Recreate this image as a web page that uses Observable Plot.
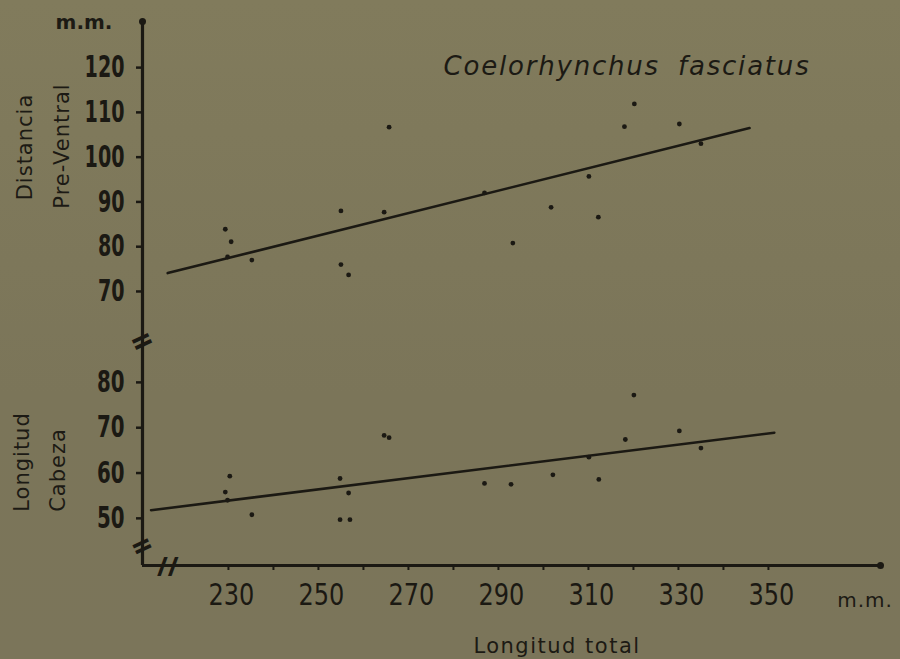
<!DOCTYPE html>
<html>
<head>
<meta charset="utf-8">
<script src="https://cdn.jsdelivr.net/npm/d3@7"></script>
<script src="https://cdn.jsdelivr.net/npm/@observablehq/plot@0.6"></script>
<style>
html,body{margin:0;padding:0;}
body{width:900px;height:659px;overflow:hidden;background:linear-gradient(#817b5c,#7b7559 60%,#7b755a);font-family:"DejaVu Sans",sans-serif;}
#wrap{position:relative;width:900px;height:659px;}
#top,#bot{position:absolute;left:0;}
#top{top:0;}
#bot{top:320px;}
.lbl{position:absolute;color:#1c1a14;white-space:nowrap;line-height:1;}
</style>
</head>
<body>
<div id="wrap">
  <div id="top"></div>
  <div id="bot"></div>
</div>
<script>
// ---- data ----
const xLabelTicks = [230, 250, 270, 290, 310, 330, 350];
const xMinorTicks = [230, 240, 250, 260, 270, 280, 290, 300, 310, 320, 330, 340, 350];
const upperTicks = [70, 80, 90, 100, 110, 120];
const lowerTicks = [50, 60, 70, 80];

const preVentralX = [229.3, 230.6, 229.8, 235.2, 255.0, 255.0, 256.7, 265.7, 264.6, 286.9, 293.2, 301.7, 310.1, 312.2, 318.0, 320.2, 330.2, 335.0];
const preVentralY = [83.9, 81.1, 77.7, 77.0, 88.0, 76.0, 73.7, 106.7, 87.7, 92.0, 80.8, 88.8, 95.7, 86.6, 106.8, 111.9, 107.4, 103.0];

const cabezaX = [230.3, 229.3, 229.8, 235.2, 254.8, 256.7, 254.8, 257.0, 264.6, 265.7, 286.9, 292.8, 302.1, 310.1, 312.3, 318.2, 320.1, 330.2, 335.0];
const cabezaY = [59.3, 55.8, 54.0, 50.8, 58.8, 55.6, 49.7, 49.7, 68.3, 67.8, 57.7, 57.5, 59.6, 63.5, 58.6, 67.4, 77.2, 69.3, 65.5];

const preVentralFitX = [216.5, 345.8];
const preVentralFitY = [74.1, 106.5];
const cabezaFitX = [212.8, 351.3];
const cabezaFitY = [51.8, 68.9];

const xDomain = [210.9, 374.9];
const upperDomain = [58.6, 130.3];
const lowerDomain = [39.6, 88.8];
const lowerBreakY = [43.6];
const xBreakX = [216.5];

const title = "Coelorhynchus fasciatus";
const unitLabel = "m.m.";
const xTitle = "Longitud total";
const upperTitle = ["Distancia", "Pre-Ventral"];
const lowerTitle = ["Longitud", "Cabeza"];

// ---- build ----
const ink = "#1b1913";
const numFont = "'DejaVu Sans Condensed','DejaVu Sans',sans-serif";
const upperPts = preVentralX.map((x, i) => ({x, y: preVentralY[i]}));
const lowerPts = cabezaX.map((x, i) => ({x, y: cabezaY[i]}));
const upperFit = preVentralFitX.map((x, i) => ({x, y: preVentralFitY[i]}));
const lowerFit = cabezaFitX.map((x, i) => ({x, y: cabezaFitY[i]}));

const common = {
  width: 900, marginLeft: 142, marginRight: 20,
  style: {background: "transparent", color: ink, overflow: "visible"},
};

const up = Plot.plot({
  ...common,
  height: 342, marginTop: 21, marginBottom: 0,
  x: {domain: xDomain, axis: null},
  y: {domain: upperDomain, axis: null},
  marks: [
    Plot.ruleX([xDomain[0]], {y1: upperDomain[0], y2: upperDomain[1], stroke: ink, strokeWidth: 3.2}),
    Plot.dot([upperDomain[1]], {x: () => xDomain[0], y: d => d, r: 3.5, fill: ink}),
    Plot.axisY({ticks: upperTicks, tickSize: 6, tickPadding: 12, strokeWidth: 2.5, fontSize: 30, fontWeight: "bold", fontFamily: numFont, label: null}),
    Plot.line(upperFit, {x: "x", y: "y", stroke: ink, strokeWidth: 2.6}),
    Plot.dot(upperPts, {x: "x", y: "y", r: 2.4, fill: ink})
  ]
});
document.getElementById("top").append(up);

const bot = Plot.plot({
  ...common,
  height: 339, marginTop: 22, marginBottom: 94,
  x: {domain: xDomain, axis: null},
  y: {domain: lowerDomain, axis: null},
  marks: [
    Plot.ruleX([xDomain[0]], {y1: lowerDomain[0], y2: lowerDomain[1], stroke: ink, strokeWidth: 3.2}),
    Plot.ruleY([lowerDomain[0]], {x1: xDomain[0], x2: xDomain[1], stroke: ink, strokeWidth: 3.2}),
    Plot.dot([xDomain[1]], {x: d => d, y: () => lowerDomain[0], r: 3.5, fill: ink}),
    Plot.text(["="], {x: () => xDomain[0], y: () => lowerDomain[1], text: d => d, rotate: -25, fontSize: 36, fontWeight: "bold", fill: ink}),
    Plot.text(lowerBreakY, {x: () => xDomain[0], y: d => d, text: () => "=", rotate: -25, fontSize: 34, fontWeight: "bold", fill: ink}),
    Plot.text(xBreakX, {x: d => d, y: () => lowerDomain[0], text: () => "//", dy: 2, fontSize: 26, fontWeight: "bold", fill: ink}),
    Plot.axisY({ticks: lowerTicks, tickSize: 6, tickPadding: 12, strokeWidth: 2.5, fontSize: 30, fontWeight: "bold", fontFamily: numFont, label: null}),
    Plot.axisX({ticks: xMinorTicks, tickSize: 5, strokeWidth: 2, tickFormat: () => "", label: null}),
    Plot.axisX({ticks: xLabelTicks, tickSize: 0, tickPadding: 18, dx: 3, fontSize: 30, fontFamily: numFont, label: null}),
    Plot.line(lowerFit, {x: "x", y: "y", stroke: ink, strokeWidth: 2.6}),
    Plot.dot(lowerPts, {x: "x", y: "y", r: 2.4, fill: ink})
  ]
});
document.getElementById("bot").append(bot);

// narrow the tick numerals like the reference's condensed face
function squeeze(svg, sel, perChar) {
  d3.select(svg).selectAll(sel + " text").each(function () {
    const n = this.textContent.length;
    if (n) this.setAttribute("textLength", n * perChar), this.setAttribute("lengthAdjust", "spacingAndGlyphs");
  });
}
squeeze(up, "g[aria-label='y-axis tick label']", 13.3);
squeeze(bot, "g[aria-label='y-axis tick label']", 13.8);
squeeze(bot, "g[aria-label='x-axis tick label']", 15.3);

// ---- text labels ----
const wrap = document.getElementById("wrap");
function label(text, cx, cy, css, rot) {
  const d = document.createElement("div");
  d.className = "lbl";
  d.textContent = text;
  d.style.left = cx + "px";
  d.style.top = cy + "px";
  d.style.transform = "translate(-50%,-50%)" + (rot ? " rotate(-90deg)" : "");
  Object.assign(d.style, css);
  wrap.append(d);
}
label(unitLabel, 84, 22, {fontSize: "20px", fontWeight: "bold"});
label(unitLabel, 865, 600, {fontSize: "20px", letterSpacing: "1px"});
label(title, 627, 66, {fontSize: "26px", fontStyle: "italic", letterSpacing: "1.8px", wordSpacing: "8px"});
label(upperTitle[0], 25, 147, {fontSize: "21px", letterSpacing: "1px"}, true);
label(upperTitle[1], 62, 146, {fontSize: "21px", letterSpacing: "1px"}, true);
label(lowerTitle[0], 22, 462, {fontSize: "21px", letterSpacing: "1px"}, true);
label(lowerTitle[1], 58, 470, {fontSize: "21px", letterSpacing: "1px"}, true);
label(xTitle, 557, 646, {fontSize: "21px", letterSpacing: "1.5px"});
</script>
</body>
</html>
